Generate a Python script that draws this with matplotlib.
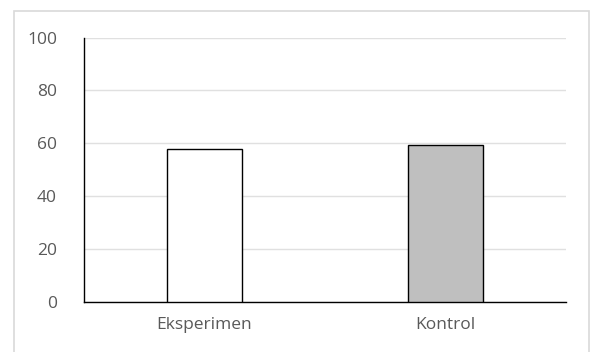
import matplotlib
matplotlib.use("Agg")
import matplotlib.pyplot as plt
from matplotlib.patches import Rectangle

categories = ["Eksperimen", "Kontrol"]
values = [58, 59.3]
colors = ["#ffffff", "#bfbfbf"]
yticks = [0, 20, 40, 60, 80, 100]

W, H = 598, 352
fig = plt.figure(figsize=(W / 100, H / 100), dpi=100)
plt.rcParams['font.family'] = ['Open Sans', 'DejaVu Sans']

# outer chart border (bottom edge lies outside the image)
fig.patches.append(Rectangle((14 / W, -5 / H), (589 - 14) / W, (341 + 5) / H,
                             transform=fig.transFigure, fill=False,
                             edgecolor="#d9d9d9", linewidth=1.2))

left, right, top, bottom = 83.5, 566, 37.5, 302
ax = fig.add_axes([left / W, 1 - bottom / H, (right - left) / W, (bottom - top) / H])
x = range(len(categories))
ax.bar(x, values, width=0.31, color=colors, edgecolor="black", linewidth=1.0, zorder=3)
ax.set_xlim(-0.5, 1.5)
ax.set_ylim(0, 100)
ax.set_yticks(yticks)
ax.set_xticks(list(x))
ax.set_xticklabels(categories)
ax.yaxis.grid(True, color="#e0e0e0", linewidth=1.0, zorder=0)
ax.tick_params(axis="both", length=0, labelsize=12.5, colors="#595959")
ax.tick_params(axis="x", pad=11)
ax.tick_params(axis="y", pad=19)
for s in ["top", "right"]:
    ax.spines[s].set_visible(False)
ax.spines["left"].set_color("black")
ax.spines["bottom"].set_color("black")
ax.spines["left"].set_linewidth(1.0)
ax.spines["bottom"].set_linewidth(1.0)

fig.savefig("out.png", dpi=100)
